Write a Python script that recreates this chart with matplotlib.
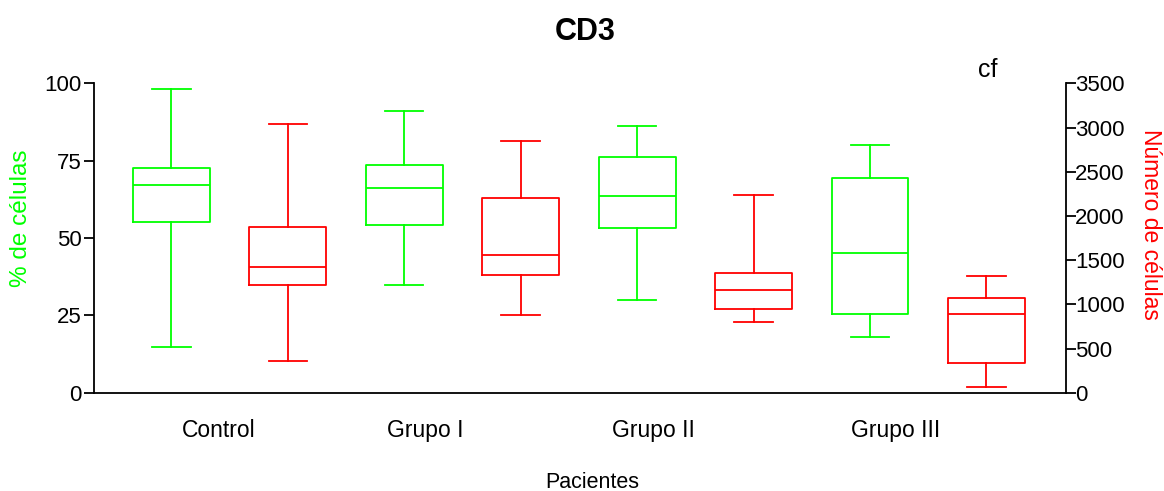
import matplotlib
matplotlib.use("Agg")
import matplotlib.pyplot as plt

plt.rcParams["font.family"] = ["Liberation Sans", "DejaVu Sans"]

# Groups and box statistics
groups = ["Control", "Grupo I", "Grupo II", "Grupo III"]
group_label_pos = [1.41, 3.18, 5.14, 7.22]

# % de células (left axis, green): min, q1, median, q3, max
pct_min = [14.9, 34.9, 30.0, 17.9]
pct_q1 = [55.1, 54.1, 53.1, 25.4]
pct_med = [67.1, 66.1, 63.6, 45.1]
pct_q3 = [72.5, 73.5, 76.1, 69.5]
pct_max = [98.2, 91.0, 86.1, 80.2]

# Número de células (right axis, red)
num_min = [359, 879, 803, 68]
num_q1 = [1218, 1328, 950, 336]
num_med = [1422, 1558, 1165, 887]
num_q3 = [1878, 2202, 1351, 1075]
num_max = [3043, 2847, 2240, 1320]

GREEN = "#00ff00"
RED = "#ff0000"


def make_stats(lo, q1, med, q3, hi):
    return [dict(whislo=a, q1=b, med=c, q3=d, whishi=e, fliers=[])
            for a, b, c, d, e in zip(lo, q1, med, q3, hi)]


fig = plt.figure(figsize=(11.64, 4.91), dpi=100)
ax = fig.add_axes([0.0808, 0.2002, 0.8347, 0.6301])
ax2 = ax.twinx()

pos_green = [1, 3, 5, 7]
pos_red = [2, 4, 6, 8]


def style(color):
    p = dict(color=color, linewidth=1.3)
    return dict(boxprops=p, whiskerprops=p, capprops=p, medianprops=p)


ax.bxp(make_stats(pct_min, pct_q1, pct_med, pct_q3, pct_max),
       positions=pos_green, widths=0.66, showfliers=False,
       manage_ticks=False, **style(GREEN))
ax2.bxp(make_stats(num_min, num_q1, num_med, num_q3, num_max),
        positions=pos_red, widths=0.66, showfliers=False,
        manage_ticks=False, **style(RED))

ax.set_xlim(0.336, 8.68)
ax.set_ylim(0, 100)
ax2.set_ylim(0, 3500)
ax.set_yticks([0, 25, 50, 75, 100])
ax2.set_yticks(range(0, 3501, 500))

for a in (ax, ax2):
    a.spines["top"].set_visible(False)
    for s in a.spines.values():
        s.set_linewidth(1.3)
ax.spines["right"].set_visible(False)
ax2.spines["left"].set_visible(False)
ax2.spines["bottom"].set_visible(False)

ax.set_xticks(group_label_pos)
ax.set_xticklabels(groups)
ax.tick_params(axis="x", length=0, pad=19, labelsize=16.5)
ax.tick_params(axis="y", length=7, width=1.3, labelsize=16, pad=2)
ax2.tick_params(axis="y", length=7, width=1.3, labelsize=16, pad=0)

# axis titles placed where the reference has them (a bit above centre)
fig.text(21 / 1164, 1 - 218 / 491, "% de células", color=GREEN,
         fontsize=17.5, rotation=90, ha="center", va="center")
fig.text(1150 / 1164, 1 - 224 / 491, "Número de células", color=RED,
         fontsize=16.5, rotation=270, ha="center", va="center")

fig.text(592.5 / 1164, 1 - 488 / 491, "Pacientes", fontsize=15.5,
         ha="center", va="baseline")
fig.text(585.5 / 1164, 1 - 40 / 491, "CD3", fontsize=22,
         fontweight="bold", ha="center", va="baseline")
fig.text(988 / 1164, 1 - 77 / 491, "cf", fontsize=18,
         ha="center", va="baseline")

fig.savefig("out.png", dpi=100)
